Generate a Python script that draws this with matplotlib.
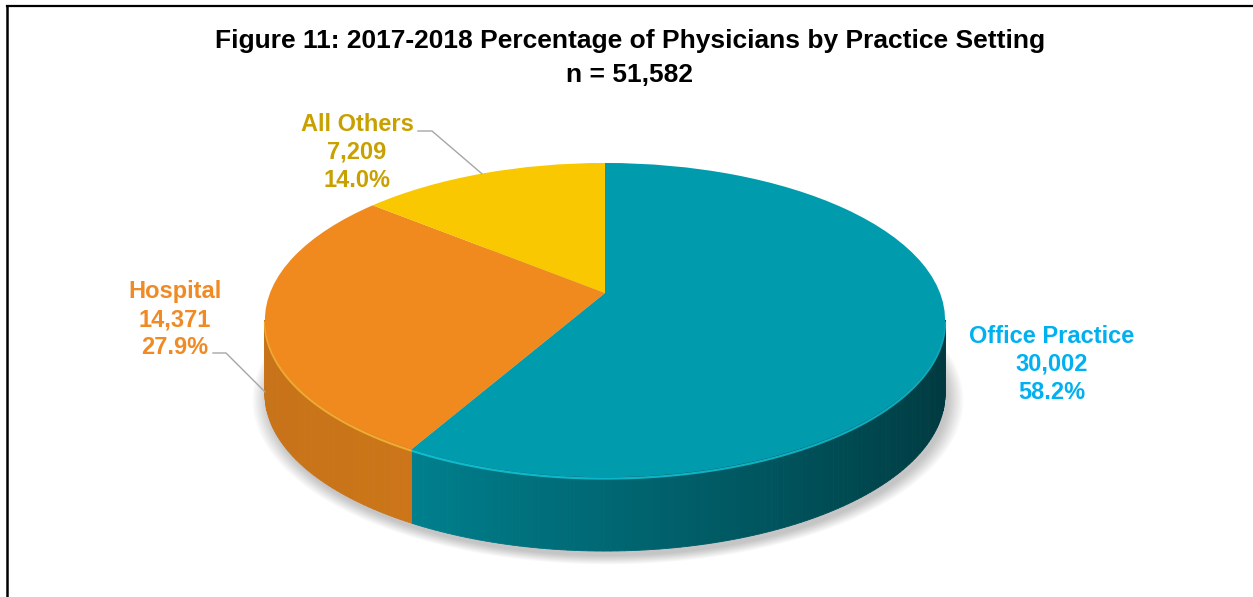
import numpy as np
import matplotlib.pyplot as plt
import matplotlib.transforms as mtransforms
from matplotlib.patches import Polygon
import matplotlib.colors as mcolors

plt.rcParams['font.family'] = ['Liberation Sans', 'DejaVu Sans']

# Data
settings = ["Office Practice", "Hospital", "All Others"]
counts = [30002, 14371, 7209]
pcts = [58.2, 27.9, 14.0]
top_colors = ["#009CAD", "#F08A1E", "#F9C800"]
label_colors = ["#00B0F0", "#F08A24", "#C8A000"]
total = sum(counts)

fig = plt.figure(figsize=(12.53, 5.97), dpi=100)
ax = fig.add_axes([0, 0, 1, 1])

# 3D pie geometry (pixel space, y down) with a mild perspective tilt
cx, cy = 605, 293
bx, ay = 335, 152.4
kp = 0.172
depth = 74


class Tilt(mtransforms.Transform):
    input_dims = 2
    output_dims = 2

    def transform_non_affine(self, values):
        v = np.asarray(values, dtype=float)
        u, w = v[:, 0], v[:, 1]
        d = 1 + kp * w
        return np.column_stack([cx + bx * u / d, cy - ay * w / d])


tilt = Tilt() + ax.transData


def rim(t):
    t = np.radians(t)
    d = 1 + kp * np.sin(t)
    return cx + bx * np.cos(t) / d, cy - ay * np.sin(t) / d


# top face via the library pie
wedges, _ = ax.pie(counts, colors=top_colors, startangle=90, counterclock=False,
                   labeldistance=None,
                   wedgeprops=dict(transform=tilt, linewidth=0, zorder=5))

ax.set_xlim(0, 1253)
ax.set_ylim(597, 0)
ax.set_aspect('auto')
ax.axis('off')

# silhouette angles of the tilted disc
sil = np.degrees(np.arcsin(kp))


def side_ranges(t1, t2):
    out = []
    for lo, hi in [(-180 + sil, -sil), (180 + sil, 360 - sil)]:
        a, b = max(t1, lo), min(t2, hi)
        if b > a:
            out.append((a, b))
    return out


def side_shade(i, t):
    c = np.cos(np.radians(t))
    if i == 0:
        f = 0.82 - 0.46 * (c + 0.5) / 1.5
    else:
        f = 0.83 + 0.04 * (c + 1)
    rgb = np.array(mcolors.to_rgb(top_colors[i])) * f
    return np.clip(rgb, 0, 1)


# soft shadow under the pie
ts_all = np.linspace(0, 360, 361)
rxs, rys = rim(ts_all)
for k in range(10):
    s = 1 + 0.005 * k
    px = cx + 3 + (rxs - cx) * s
    py = cy + depth + 5 + (rys - cy) * s
    ax.add_patch(Polygon(np.column_stack([px, py]), closed=True,
                         facecolor='black', edgecolor='none', alpha=0.022, zorder=1))

# side walls
for i, w in enumerate(wedges):
    for a, b in side_ranges(w.theta1, w.theta2):
        ts = np.linspace(a, b, max(int(b - a), 2) + 1)
        for t0, t1 in zip(ts[:-1], ts[1:]):
            x0, y0 = rim(t0)
            x1, y1 = rim(t1)
            col = side_shade(i, (t0 + t1) / 2)
            ax.add_patch(Polygon([(x0, y0), (x1, y1), (x1, y1 + depth), (x0, y0 + depth)],
                                 closed=True, facecolor=col, edgecolor=col,
                                 linewidth=0.6, zorder=3))
        # bevel highlight along the rim
        ts = np.linspace(a, b, 200)
        xs, ys = rim(ts)
        light = np.clip(np.array(mcolors.to_rgb(top_colors[i])) * 1.25 + 0.08, 0, 1)
        ax.plot(xs, ys + 1.5, color=light, lw=1.6, alpha=0.7, zorder=4,
                solid_capstyle='butt')

# title
ax.text(630, 48, "Figure 11: 2017-2018 Percentage of Physicians by Practice Setting",
        ha='center', va='baseline', fontsize=19, fontweight='bold', color='black')
ax.text(630, 82, "n = {:,}".format(total),
        ha='center', va='baseline', fontsize=19, fontweight='bold', color='black')

# data labels (one text per line, baselines)
label_x = [1052, 175, 357]
label_base = [343, 298, 131]
for i in range(3):
    lines = [settings[i], "{:,}".format(counts[i]), "{:.1f}%".format(pcts[i])]
    for j, line in enumerate(lines):
        ax.text(label_x[i], label_base[i] + 28 * j, line,
                ha='center', va='baseline', fontsize=17, fontweight='bold',
                color=label_colors[i], zorder=6)

# leader lines
leaders = {1: ((213, 353), (226, 353), 0.95), 2: ((418, 131), (432, 131), 0.0)}
for i, (p0, p1, drop) in leaders.items():
    mid = (wedges[i].theta1 + wedges[i].theta2) / 2
    ex, ey = rim(mid)
    ax.plot([p0[0], p1[0], ex], [p0[1], p1[1], ey + drop * depth],
            color='#A6A6A6', lw=1.0, zorder=6)

# frame border (left and top only visible)
ax.plot([6.5, 6.5], [597, 5.5], color='black', lw=1.8, solid_capstyle='projecting')
ax.plot([6.5, 1253], [5.5, 5.5], color='black', lw=1.6, solid_capstyle='projecting')

fig.savefig("out.png", dpi=100)
